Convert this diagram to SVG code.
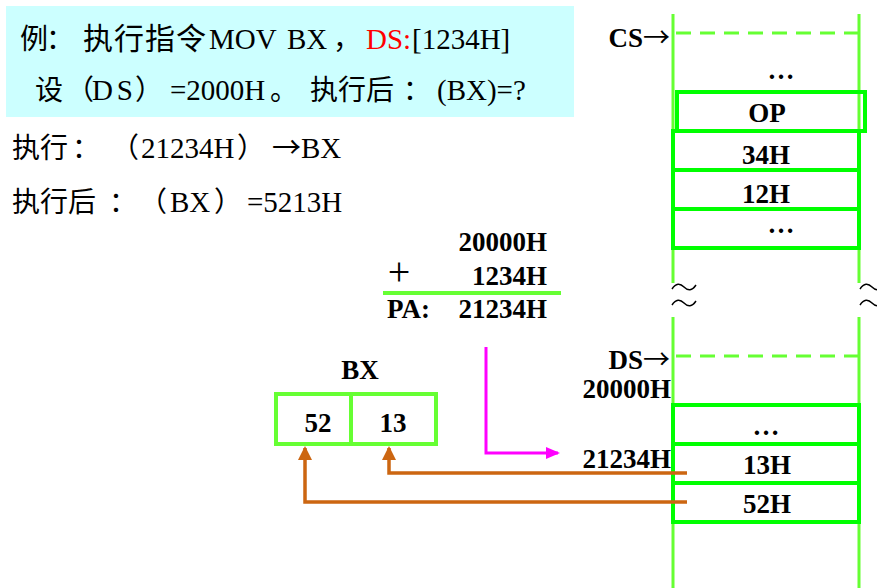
<svg xmlns="http://www.w3.org/2000/svg" width="877" height="588" viewBox="0 0 877 588">
<style>
.t{font-family:"Liberation Serif","Noto Sans CJK SC",serif;font-size:29px;fill:#000}
.c{font-family:"Noto Sans CJK SC","Liberation Serif",sans-serif;font-size:28px;fill:#000}
.b{font-family:"Liberation Serif","Noto Sans CJK SC",serif;font-size:27px;font-weight:bold;fill:#000}
.ar{font-family:"Noto Sans CJK SC",sans-serif;font-weight:normal}
.m{text-anchor:middle}
.e{text-anchor:end}
.vl{stroke:#66ff33;stroke-width:3;fill:none}
.dash{stroke:#66ff33;stroke-width:3;stroke-dasharray:15 9;fill:none}
.cell{stroke:#00ff00;stroke-width:4;fill:none}
.or{stroke:#cc6611;stroke-width:3.5;fill:none}
.tl{stroke:#000;stroke-width:1.5;fill:none}
</style>
<defs>
<marker id="ao" markerUnits="userSpaceOnUse" markerWidth="14" markerHeight="16" viewBox="0 0 14 16" refX="12" refY="8" orient="auto"><path d="M0,1 L14,8 L0,15 z" fill="#cc6611"/></marker>
<marker id="am" markerUnits="userSpaceOnUse" markerWidth="14" markerHeight="12" viewBox="0 0 14 12" refX="12" refY="6" orient="auto"><path d="M0,0 L14,6 L0,12 z" fill="#ff00ff"/></marker>
</defs>

<g id="question">
<rect x="6" y="6" width="568" height="111" fill="#ccffff"/>
<text class="c" x="20" y="49">例</text>
<text class="c" x="46" y="49">：</text>
<text class="c" x="83" y="49" style="font-size:30px;letter-spacing:1px">执行指令</text>
<text class="t" x="209" y="49">MOV</text>
<text class="t" x="287" y="49">BX</text>
<text class="c" x="333" y="49">，</text>
<text class="t" x="366" y="49" style="fill:#ff0000">DS:</text>
<text class="t" x="412" y="49">[1234H]</text>
<text class="c" x="35" y="100">设</text>
<text class="c" x="66" y="100">（</text>
<text class="t" x="92" y="100" textLength="41" lengthAdjust="spacing">DS</text>
<text class="c" x="135" y="100">）</text>
<text class="t" x="170" y="100">=2000H</text>
<text class="c" x="270" y="100">。</text>
<text class="c" x="310" y="100">执行后</text>
<text class="c" x="403" y="100">：</text>
<text class="t" x="437" y="100">(BX)=?</text>
</g>

<g id="exec">
<text class="c" x="12" y="158">执行</text>
<text class="c" x="72" y="158">：</text>
<text class="c" x="111" y="158">（</text>
<text class="t" x="141" y="158">21234H</text>
<text class="c" x="237" y="158">）</text>
<text class="t" x="272" y="158"><tspan class="ar">→</tspan>BX</text>
<text class="c" x="12" y="212">执行后</text>
<text class="c" x="109" y="212">：</text>
<text class="c" x="139" y="212">（</text>
<text class="t" x="170" y="212">BX</text>
<text class="c" x="214" y="212">）</text>
<text class="t" x="247" y="212">=5213H</text>
</g>

<g id="sum">
<text class="b e" x="547" y="251">20000H</text>
<text class="t m" x="399" y="285" style="font-size:40px">+</text>
<text class="b e" x="547" y="285">1234H</text>
<line x1="383" y1="293" x2="561" y2="293" stroke="#66ff33" stroke-width="4"/>
<text class="b" x="387" y="318">PA:</text>
<text class="b e" x="547" y="318">21234H</text>
</g>

<g id="memory">
<path class="vl" d="M673,14 V283 M673,317 V588 M859,14 V283 M859,317 V588"/>
<path class="tl" d="M672,289 c4,-6 8,-6 12,-2 s8,4 12,-2 M672,305 c4,-6 8,-6 12,-2 s8,4 12,-2 M860,289 c4,-6 8,-6 12,-2 s8,4 12,-2 M860,305 c4,-6 8,-6 12,-2 s8,4 12,-2"/>
<line class="dash" x1="676" y1="33" x2="858" y2="33"/>
<line class="dash" x1="676" y1="356" x2="858" y2="356"/>
<text class="b e" x="670" y="47">CS<tspan class="ar">→</tspan></text>
<text class="b m" x="781" y="79">…</text>
</g>

<g id="cell-op"><rect class="cell" x="677" y="92" width="188" height="39"/><text class="b m" x="767" y="122">OP</text></g>
<g id="cell-34h"><rect class="cell" x="673" y="131" width="186" height="39"/><text class="b m" x="766" y="164">34H</text></g>
<g id="cell-12h"><rect class="cell" x="673" y="170" width="186" height="39"/><text class="b m" x="766" y="203">12H</text></g>
<g id="cell-dots1"><rect class="cell" x="673" y="209" width="186" height="39"/><text class="b m" x="781" y="233">…</text></g>

<g id="ds-labels">
<text class="b e" x="670" y="369">DS<tspan class="ar">→</tspan></text>
<text class="b e" x="671" y="398">20000H</text>
<text class="b e" x="671" y="468">21234H</text>
</g>
<g id="cell-dots2"><rect class="cell" x="673" y="405" width="186" height="39"/><text class="b m" x="766" y="435">…</text></g>
<g id="cell-13h"><rect class="cell" x="673" y="444" width="186" height="39"/><text class="b m" x="767" y="474">13H</text></g>
<g id="cell-52h"><rect class="cell" x="673" y="483" width="186" height="39"/><text class="b m" x="767" y="513">52H</text></g>

<g id="bx">
<text class="b m" x="360" y="379">BX</text>
<rect x="276" y="394" width="160" height="50" fill="none" stroke="#66ff33" stroke-width="4"/>
<line x1="351" y1="394" x2="351" y2="444" stroke="#66ff33" stroke-width="4"/>
<text class="b m" x="318" y="432">52</text>
<text class="b m" x="393" y="432">13</text>
</g>

<g id="connectors">
<path d="M486,347 V453 H558" stroke="#ff00ff" stroke-width="3" fill="none" marker-end="url(#am)"/>
<path class="or" d="M687,473 H389 V448" marker-end="url(#ao)"/>
<path class="or" d="M687,502 H305 V448" marker-end="url(#ao)"/>
</g>
</svg>
